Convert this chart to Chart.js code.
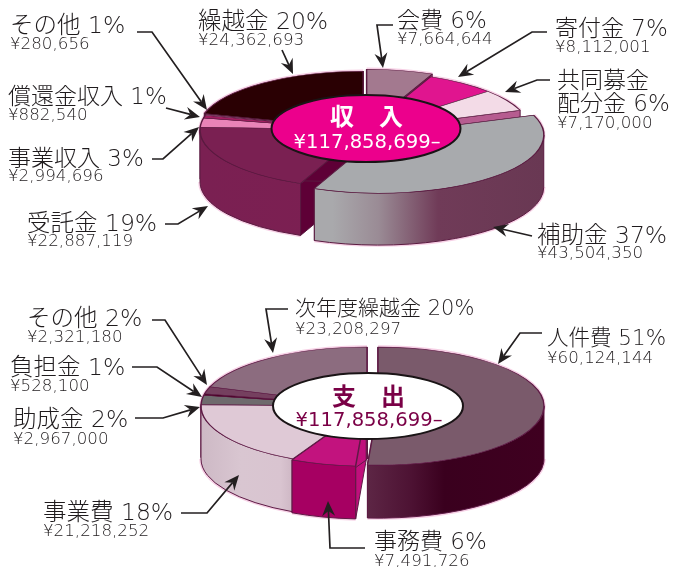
<!DOCTYPE html>
<html lang="ja">
<head>
<meta charset="utf-8">
<title>収入・支出</title>
<script src="https://cdn.jsdelivr.net/npm/chart.js@4"></script>
<style>
  html, body { margin: 0; padding: 0; background: #fff; }
  #stage { position: relative; width: 673px; height: 567px; overflow: hidden; }
  #stage canvas { position: absolute; left: 0; top: 0; }
</style>
</head>
<body>
<div id="stage">
  <canvas id="income" width="673" height="567"></canvas>
  <canvas id="expense" width="673" height="567"></canvas>
</div>
<script>
// Income figures, clockwise from twelve o'clock
const incomeNames = ['会費', '寄付金', '共同募金\n配分金', '補助金', '受託金', '事業収入', '償還金収入', 'その他', '繰越金'];
const incomeValues = [7664644, 8112001, 7170000, 43504350, 22887119, 2994696, 882540, 280656, 24362693];
const incomePercents = [6, 7, 6, 37, 19, 3, 1, 1, 20];

// Expense figures, clockwise from twelve o'clock
const expenseNames = ['人件費', '事務費', '事業費', '助成金', '負担金', 'その他', '次年度繰越金'];
const expenseValues = [60124144, 7491726, 21218252, 2967000, 528100, 2321180, 23208297];
const expensePercents = [51, 6, 18, 2, 1, 2, 20];

const incomeTotalText = '¥117,858,699–';
const expenseTotalText = '¥117,858,699–';

// Colours of the slice tops, side walls and cut faces
const incomeTops = ['#a3798f', '#e0158f', '#f3dbe7', '#a8aaad', '#7a2052', '#e984b8', '#a01f60', '#f0b4d2', '#2a0003'];
const incomeWalls = ['#8a5a72', '#b01070', '#b65c90',
  [[0.36, '#a9a9ac'], [0.5, '#9a8b95'], [0.68, '#703b58'], [1, '#693853']],
  [[0, '#7a2052'], [0.5, '#7c1f52'], [1, '#7a1c50']],
  '#c0609a', '#801850', '#c08aa8', '#1e0002'];
const incomeCuts = ['#8a5a72', '#b01070', '#b65c90', '#9a9a9e', '#5e0036', '#c0609a', '#801850', '#c08aa8', '#1e0002'];

const expenseTops = ['#7a5a6b', '#c2137e', '#dfc9d6', '#6e6a6d', '#4b0024', '#75405f', '#8c6c7f'];
const expenseWalls = [
  [[0.46, '#5e2746'], [0.6, '#4d1233'], [0.7, '#3a001e'], [1, '#3f0020']],
  '#a60062',
  [[0, '#cdb9c5'], [0.12, '#d9c6d1'], [0.24, '#d9c4d0'], [0.3, '#c7afbd']],
  '#5a5558', '#3a001c', '#5c2f4a', '#6e5264'];
const expenseCuts = ['#5e2746', '#c0107c', '#c7afbd', '#5a5558', '#3a001c', '#5c2f4a', '#6e5264'];

// How far each slice is pulled out of the pie, in radius units
const incomeExplode = [8, 0, 0, 20, 0, 0, 0, 0, 3];
const expenseExplode = [11, 3, 0, 0, 0, 0, 0];

// Label anchors: x, label baseline, amount baseline, label font size
const incomeLabelSpots = [
  [397, 28, 44, 23], [555, 36, 52, 23], [557, 111, 128, 23], [537, 243, 258, 23.5], [27, 231, 246, 23.5],
  [8, 166, 181, 23], [8, 104, 120, 23], [10, 33, 49, 23.5], [198, 29, 45, 23.5]
];
const expenseLabelSpots = [
  [547, 345, 363, 21.5], [374, 549, 566, 23], [43, 520, 536, 23.5], [13, 427, 444, 23.5],
  [10, 375, 391, 23.5], [27, 326, 342, 23.5], [295, 315, 334, 21]
];

// Leader lines ending in an arrowhead, listed from the label to the tip
const incomeLeaders = [
  [[393, 25], [377, 25], [383, 68]],
  [[547, 32], [532, 32], [458, 77]],
  [[550, 80], [537, 80], [505, 92]],
  [[532, 236], [493, 227]],
  [[165, 224], [178, 224], [208, 206]],
  [[152, 159], [163, 159], [199, 127]],
  [[166, 108], [200, 117]],
  [[137, 32], [152, 32], [207, 110]],
  [[282, 50], [293, 74]]
];
const expenseLeaders = [
  [[542, 333], [520, 333], [498, 364]],
  [[365, 548], [330, 548], [328, 501]],
  [[181, 513], [207, 513], [239, 475]],
  [[135, 418], [163, 418], [200, 407]],
  [[132, 367], [157, 367], [202, 397]],
  [[152, 320], [165, 320], [207, 385]],
  [[288, 309], [266, 309], [273, 353]]
];

const TEXT_COLOR = '#1f1b1d';
const LATIN_CJK = "'DejaVu Sans', 'Noto Sans CJK JP', sans-serif";

function wallFill(ctx, spec, x0, x1) {
  if (typeof spec === 'string') return spec;
  const g = ctx.createLinearGradient(x0, 0, x1, 0);
  spec.forEach(([f, c]) => g.addColorStop(f, c));
  return g;
}

// Extruded, flattened pie: side walls first, then the library's arcs in a squashed space
const pie3d = {
  id: 'pie3d',
  afterDatasetsUpdate(chart, args, o) {
    chart.getDatasetMeta(0).data.forEach((arc, i) => {
      const mid = (arc.startAngle + arc.endAngle) / 2;
      arc.x += Math.cos(mid) * o.explode[i];
      arc.y += Math.sin(mid) * o.explode[i];
    });
  },
  beforeDatasetsDraw(chart, args, o) {
    const ctx = chart.ctx;
    const arcs = chart.getDatasetMeta(0).data;
    const cy = (chart.chartArea.top + chart.chartArea.bottom) / 2;
    const k = o.squash;
    const py = y => cy + (y - cy) * k;
    const order = arcs.map((a, i) => i).sort((p, q) => {
      const sp = Math.sin((arcs[p].startAngle + arcs[p].endAngle) / 2);
      const sq = Math.sin((arcs[q].startAngle + arcs[q].endAngle) / 2);
      return sp - sq;
    });

    // pale halo round the whole body
    ctx.save();
    ctx.strokeStyle = 'rgba(238,170,208,0.55)';
    ctx.lineWidth = 3.5;
    order.forEach(i => {
      const a = arcs[i];
      ctx.beginPath();
      ctx.ellipse(a.x, py(a.y), a.outerRadius, a.outerRadius * k, 0, a.startAngle, a.endAngle);
      ctx.stroke();
      const h0 = Math.max(a.startAngle, 0), h1 = Math.min(a.endAngle, Math.PI);
      if (h0 < h1) {
        ctx.beginPath();
        ctx.ellipse(a.x, py(a.y) + o.depth, a.outerRadius, a.outerRadius * k, 0, h0, h1);
        ctx.stroke();
      }
    });
    ctx.restore();

    ctx.save();
    ctx.lineWidth = 1;
    ctx.strokeStyle = o.edge;
    ctx.lineJoin = 'round';
    order.forEach(i => {
      const a = arcs[i];
      const R = a.outerRadius, rY = R * k, X = a.x, Y = py(a.y), D = o.depth;

      // cut faces
      ctx.fillStyle = o.cuts[i];
      [a.startAngle, a.endAngle].forEach(t => {
        const ex = X + R * Math.cos(t), ey = Y + rY * Math.sin(t);
        ctx.beginPath();
        ctx.moveTo(X, Y);
        ctx.lineTo(ex, ey);
        ctx.lineTo(ex, ey + D);
        ctx.lineTo(X, Y + D);
        ctx.closePath();
        ctx.fill();
        ctx.stroke();
      });

      // outer wall, only the part facing the viewer
      const t0 = Math.max(a.startAngle, 0), t1 = Math.min(a.endAngle, Math.PI);
      if (t0 < t1) {
        ctx.fillStyle = wallFill(ctx, o.walls[i], X - R, X + R);
        ctx.beginPath();
        ctx.ellipse(X, Y, R, rY, 0, t0, t1);
        ctx.ellipse(X, Y + D, R, rY, 0, t1, t0, true);
        ctx.closePath();
        ctx.fill();
        ctx.stroke();
      }
    });
    ctx.restore();

    // the arcs themselves are drawn by the controller under this transform
    ctx.save();
    ctx.translate(0, cy);
    ctx.scale(1, k);
    ctx.translate(0, -cy);
  },
  afterDatasetsDraw(chart) {
    chart.ctx.restore();
  },
  afterDraw(chart, args, o) {
    const ctx = chart.ctx;
    ctx.save();
    // leader lines with stealth arrowheads
    o.leaders.forEach(pts => {
      const n = pts.length;
      const [tx, ty] = pts[n - 1];
      const [sx, sy] = pts[n - 2];
      const ang = Math.atan2(ty - sy, tx - sx);
      const L = 15, W = 6.5, N = 10;
      ctx.strokeStyle = '#231f20';
      ctx.fillStyle = '#231f20';
      ctx.lineWidth = 1.7;
      ctx.beginPath();
      ctx.moveTo(pts[0][0], pts[0][1]);
      for (let j = 1; j < n - 1; j++) ctx.lineTo(pts[j][0], pts[j][1]);
      ctx.lineTo(tx - Math.cos(ang) * N, ty - Math.sin(ang) * N);
      ctx.stroke();
      const c = Math.cos(ang), s = Math.sin(ang);
      ctx.beginPath();
      ctx.moveTo(tx, ty);
      ctx.lineTo(tx - c * L + s * W, ty - s * L - c * W);
      ctx.lineTo(tx - c * N, ty - s * N);
      ctx.lineTo(tx - c * L - s * W, ty - s * L + c * W);
      ctx.closePath();
      ctx.fill();
    });

    // category labels and amounts
    ctx.textAlign = 'left';
    ctx.textBaseline = 'alphabetic';
    ctx.fillStyle = TEXT_COLOR;
    o.names.forEach((name, i) => {
      const [x, yLabel, yValue, size] = o.spots[i];
      const lines = name.split('\n');
      ctx.font = `300 ${size}px ${LATIN_CJK}`;
      lines.forEach((line, j) => {
        const last = j === lines.length - 1;
        const y = yLabel - (lines.length - 1 - j) * 23;
        ctx.fillText(last ? `${line} ${o.percents[i]}%` : line, x, y);
      });
      ctx.font = `300 16.7px ${LATIN_CJK}`;
      ctx.fillText('¥' + o.values[i].toLocaleString('en-US'), x, yValue);
    });

    // centre plate with the total
    const p = o.plate;
    ctx.beginPath();
    ctx.ellipse(p.x, p.y, p.rx, p.ry, 0, 0, Math.PI * 2);
    ctx.fillStyle = p.fill;
    ctx.fill();
    ctx.lineWidth = 2;
    ctx.strokeStyle = '#1a1416';
    ctx.stroke();
    ctx.fillStyle = p.ink;
    ctx.textAlign = 'center';
    ctx.font = `bold 24px 'Noto Sans CJK JP', sans-serif`;
    ctx.fillText(p.title[0], p.x - 24, p.titleY);
    ctx.fillText(p.title[1], p.x + 25, p.titleY);
    ctx.font = `19.6px ${LATIN_CJK}`;
    ctx.fillText(p.total, p.x + 1, p.totalY);
    ctx.restore();
  }
};

function buildPie(id, cfg) {
  return new Chart(document.getElementById(id), {
    type: 'pie',
    plugins: [pie3d],
    data: {
      labels: cfg.names,
      datasets: [{
        data: cfg.values,
        backgroundColor: cfg.tops,
        borderColor: cfg.edge,
        borderWidth: 1.5,
        radius: cfg.radius,
        clip: false
      }]
    },
    options: {
      responsive: false,
      animation: false,
      events: [],
      rotation: 0,
      layout: { padding: cfg.padding },
      plugins: {
        legend: { display: false },
        tooltip: { enabled: false },
        pie3d: {
          squash: cfg.squash,
          depth: cfg.depth,
          edge: cfg.edge,
          walls: cfg.walls,
          cuts: cfg.cuts,
          explode: cfg.explode,
          names: cfg.names,
          values: cfg.values,
          percents: cfg.percents,
          spots: cfg.spots,
          leaders: cfg.leaders,
          plate: cfg.plate
        }
      }
    }
  });
}

buildPie('income', {
  names: incomeNames, values: incomeValues, percents: incomePercents,
  tops: incomeTops, walls: incomeWalls, cuts: incomeCuts, explode: incomeExplode,
  spots: incomeLabelSpots, leaders: incomeLeaders,
  edge: '#5a1a40', radius: 165, squash: 58 / 165, depth: 52,
  padding: { left: 57, right: 0, top: 0, bottom: 307 },
  plate: { x: 366, y: 128.5, rx: 94.5, ry: 33.5, fill: '#ec008c', ink: '#ffffff',
           title: ['収', '入'], titleY: 125, total: incomeTotalText, totalY: 148 }
});

buildPie('expense', {
  names: expenseNames, values: expenseValues, percents: expensePercents,
  tops: expenseTops, walls: expenseWalls, cuts: expenseCuts, explode: expenseExplode,
  spots: expenseLabelSpots, leaders: expenseLeaders,
  edge: '#5e1a45', radius: 166, squash: 59 / 166, depth: 53,
  padding: { left: 61, right: 0, top: 245, bottom: 0 },
  plate: { x: 368, y: 406, rx: 95, ry: 33, fill: '#ffffff', ink: '#7a0046',
           title: ['支', '出'], titleY: 405, total: expenseTotalText, totalY: 426 }
});
</script>
</body>
</html>
